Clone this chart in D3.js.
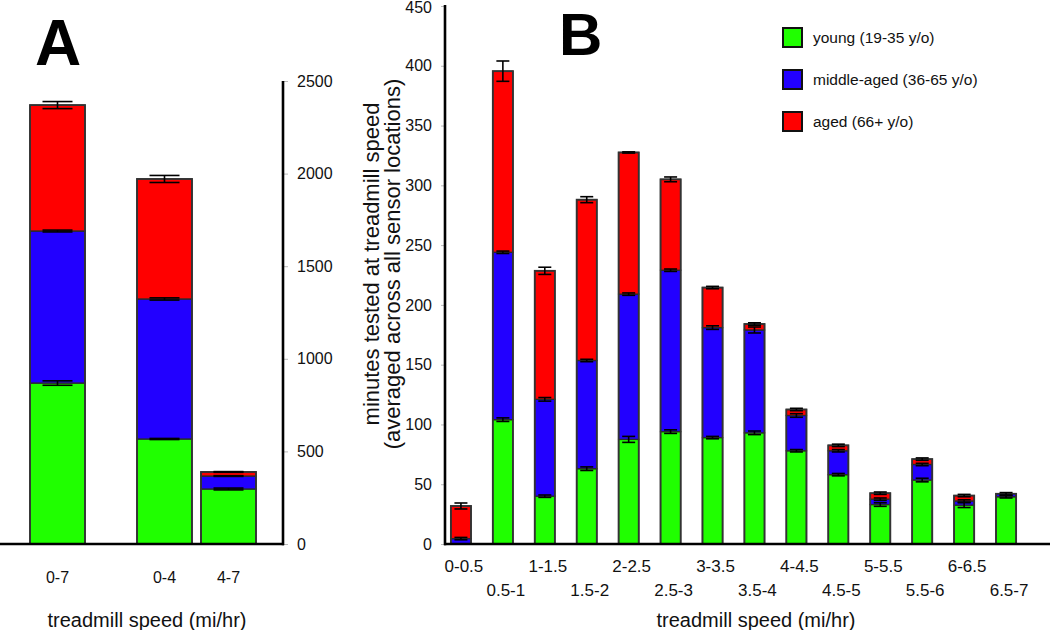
<!DOCTYPE html>
<html>
<head>
<meta charset="utf-8">
<script src="https://cdn.jsdelivr.net/npm/d3@7"></script>
<style>
  html, body { margin: 0; padding: 0; background: #fff; }
  svg { display: block; font-family: "Liberation Sans", Arial, sans-serif; }
</style>
</head>
<body>
<svg id="chart" width="1050" height="630"></svg>
<script>
// ---------- DATA ----------
const seriesKeys = ["young", "middle", "aged"];
const seriesLabels = ["young (19-35 y/o)", "middle-aged (36-65 y/o)", "aged (66+ y/o)"];
const seriesColors = ["#20ff00", "#2200ff", "#ff0000"];

// Panel A
const catsA = ["0-7", "0-4", "4-7"];
const youngA = [869, 567, 297];
const middleA = [821, 756, 70];
const agedA = [680, 648, 22];
const errYoungA = [12, 3, 5];
const errMiddleA = [5, 6, 2];
const errAgedA = [19, 19, 2];
const ticksA = [0, 500, 1000, 1500, 2000, 2500];

// Panel B
const catsB = ["0-0.5", "0.5-1", "1-1.5", "1.5-2", "2-2.5", "2.5-3", "3-3.5",
               "3.5-4", "4-4.5", "4.5-5", "5-5.5", "5.5-6", "6-6.5", "6.5-7"];
const youngB = [0, 104, 40, 63, 87.5, 94, 89, 93, 78, 58, 33, 53.5, 32.5, 39.5];
const middleB = [4.5, 140, 81, 90.5, 121.5, 135, 92, 86, 29.5, 20, 4.5, 13, 3.5, 2.5];
const agedB = [27.3, 151.5, 107.5, 134.5, 118.5, 76, 33.5, 5, 5, 4.5, 5, 4.5, 4.5, 0];
const errYoungB = [0, 1.5, 1, 1.5, 2.5, 1.5, 1, 1.5, 1, 1, 1.5, 1.5, 2, 1];
const errMiddleB = [1, 1, 1.5, 1, 1, 1, 1.5, 2.5, 1.5, 1, 1, 1, 1, 1];
const errAgedB = [2.5, 8.5, 3, 2.5, 0.5, 2, 1, 1, 1, 1, 1, 1, 1, 0.5];
const ticksB = [0, 50, 100, 150, 200, 250, 300, 350, 400, 450];

const xTitle = "treadmill speed (mi/hr)";
const yTitle1 = "minutes tested at treadmill speed";
const yTitle2 = "(averaged across all sensor locations)";

// ---------- HELPERS ----------
const svg = d3.select("#chart");
const outline = "#2a2a2a";

function buildTable(cats, y, m, a, ey, em, ea) {
  return cats.map((c, i) => ({
    cat: c, young: y[i], middle: m[i], aged: a[i],
    err: { young: ey[i], middle: em[i], aged: ea[i] }
  }));
}

function drawStacks(g, table, xCenter, bw, y, capW) {
  const stacked = d3.stack().keys(seriesKeys)(table);
  stacked.forEach((layer, li) => {
    g.append("g").selectAll("rect").data(layer).join("rect")
      .attr("x", d => xCenter(d.data.cat) - bw / 2)
      .attr("width", bw)
      .attr("y", d => y(d[1]))
      .attr("height", d => Math.max(0, y(d[0]) - y(d[1])))
      .attr("fill", seriesColors[li])
      .attr("stroke", outline)
      .attr("stroke-width", 1.3);
  });
  g.append("g").selectAll("rect").data(stacked[stacked.length - 1]).join("rect")
    .attr("x", d => xCenter(d.data.cat) - bw / 2)
    .attr("width", bw)
    .attr("y", d => y(d[1]))
    .attr("height", d => y(0) - y(d[1]))
    .attr("fill", "none")
    .attr("stroke", "#333")
    .attr("stroke-width", 1.8);
  stacked.forEach((layer, li) => {
    const key = seriesKeys[li];
    const eg = g.append("g").attr("stroke", "#000").attr("stroke-width", 1.6);
    layer.forEach(d => {
      if (d[1] - d[0] <= 0 && key !== "young") return;
      const e = d.data.err[key];
      if (d[1] <= 0) return;
      const cx = xCenter(d.data.cat);
      const top = y(d[1] + e), bot = y(d[1] - e);
      eg.append("line").attr("x1", cx).attr("x2", cx).attr("y1", top).attr("y2", bot);
      eg.append("line").attr("x1", cx - capW / 2).attr("x2", cx + capW / 2).attr("y1", top).attr("y2", top);
      eg.append("line").attr("x1", cx - capW / 2).attr("x2", cx + capW / 2).attr("y1", bot).attr("y2", bot);
    });
  });
}

// ---------- PANEL A ----------
const baseY = 544;
const yA = d3.scaleLinear().domain([0, 2500]).range([baseY, 81]);
const xA = d3.scaleOrdinal().domain(catsA).range([57.5, 164.5, 228.5]);
const tableA = buildTable(catsA, youngA, middleA, agedA, errYoungA, errMiddleA, errAgedA);
const gA = svg.append("g");
drawStacks(gA, tableA, xA, 55, yA, 30);

const axA = svg.append("g").attr("transform", "translate(283,0)")
  .call(d3.axisRight(yA).tickValues(ticksA).tickSize(5).tickPadding(9).tickFormat(d3.format("d")));
axA.select(".domain").remove();
axA.selectAll(".tick line").attr("stroke", "#bbb");
axA.selectAll(".tick text").attr("font-size", 16).attr("fill", "#111")
  .attr("font-family", "Liberation Sans, Arial, sans-serif");
svg.append("line").attr("x1", 283).attr("x2", 283).attr("y1", 81).attr("y2", baseY + 1.2)
  .attr("stroke", "#000").attr("stroke-width", 2.6);
svg.append("line").attr("x1", 0).attr("x2", 284).attr("y1", baseY).attr("y2", baseY)
  .attr("stroke", "#000").attr("stroke-width", 2.6);

svg.append("g").selectAll("text").data(catsA).join("text")
  .attr("x", d => xA(d)).attr("y", 583)
  .attr("text-anchor", "middle").attr("font-size", 16).attr("fill", "#111")
  .text(d => d);
svg.append("text").attr("x", 147).attr("y", 627).attr("text-anchor", "middle")
  .attr("font-size", 20).attr("fill", "#111").text(xTitle);

svg.append("text").attr("x", 35).attr("y", 65).attr("font-size", 64)
  .attr("font-weight", "bold").attr("fill", "#000").text("A");

// ---------- PANEL B ----------
const yB = d3.scaleLinear().domain([0, 450]).range([baseY, 6]);
const xB = d3.scaleBand().domain(catsB).range([445, 1022]).paddingInner(0.52).paddingOuter(0.14);
const xBc = c => xB(c) + xB.bandwidth() / 2;
const tableB = buildTable(catsB, youngB, middleB, agedB, errYoungB, errMiddleB, errAgedB);
const gB = svg.append("g");
drawStacks(gB, tableB, xBc, xB.bandwidth(), yB, 13);

const axB = svg.append("g").attr("transform", "translate(445,0)")
  .call(d3.axisLeft(yB).tickValues(ticksB).tickSize(4).tickPadding(9).tickFormat(d3.format("d")));
axB.select(".domain").remove();
axB.selectAll(".tick line").attr("stroke", "#bbb");
axB.selectAll(".tick text").attr("font-size", 16).attr("fill", "#111")
  .attr("font-family", "Liberation Sans, Arial, sans-serif")
  .attr("dy", d => d === 450 ? "0.42em" : "0.32em");
svg.append("line").attr("x1", 445).attr("x2", 445).attr("y1", 5).attr("y2", baseY + 1.2)
  .attr("stroke", "#000").attr("stroke-width", 2.6);
svg.append("line").attr("x1", 444).attr("x2", 1050).attr("y1", baseY).attr("y2", baseY)
  .attr("stroke", "#000").attr("stroke-width", 2.6);

svg.append("g").selectAll("text").data(catsB).join("text")
  .attr("x", d => xBc(d) + 3)
  .attr("y", (d, i) => i % 2 === 0 ? 572 : 596)
  .attr("text-anchor", "middle").attr("font-size", 17).attr("fill", "#111")
  .text(d => d);
svg.append("text").attr("x", 756).attr("y", 627).attr("text-anchor", "middle")
  .attr("font-size", 20).attr("fill", "#111").text(xTitle);

const yt = svg.append("g").attr("transform", "translate(383,264) rotate(-90)");
yt.append("text").attr("x", 0).attr("y", -4).attr("text-anchor", "middle")
  .attr("font-size", 22).attr("fill", "#111").text(yTitle1);
yt.append("text").attr("x", 0).attr("y", 17).attr("text-anchor", "middle")
  .attr("font-size", 22).attr("fill", "#111").text(yTitle2);

svg.append("text").attr("x", 559).attr("y", 55).attr("font-size", 60)
  .attr("font-weight", "bold").attr("fill", "#000").text("B");

// legend
const leg = svg.append("g").attr("transform", "translate(783,0)");
const legRows = [37, 79, 121];
seriesKeys.forEach((k, i) => {
  leg.append("rect").attr("x", 0).attr("y", legRows[i] - 9).attr("width", 19).attr("height", 19)
    .attr("fill", seriesColors[i]).attr("stroke", "#111").attr("stroke-width", 2);
  leg.append("text").attr("x", 30).attr("y", legRows[i] + 6)
    .attr("font-size", 15.5).attr("fill", "#111").text(seriesLabels[i]);
});
</script>
</body>
</html>
